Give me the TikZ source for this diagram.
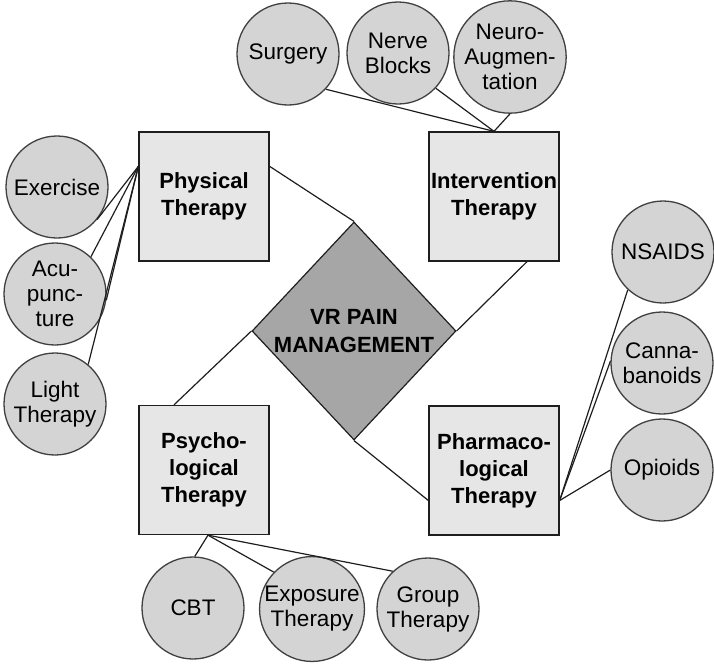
\documentclass[tikz,border=0pt]{standalone}
\usepackage{fontspec}
\setmainfont{Liberation Sans}
\usetikzlibrary{shapes.geometric}
\definecolor{boxfill}{HTML}{E6E6E6}
\definecolor{circfill}{HTML}{D4D4D4}
\definecolor{diafill}{HTML}{A6A6A6}
\definecolor{edge}{HTML}{1E1E1E}
\begin{document}
\begin{tikzpicture}[x=1pt,y=-1pt,
  therapybox/.style={rectangle, draw=edge, line width=1.3pt, fill=boxfill,
    minimum width=130pt, minimum height=129pt, inner sep=0pt, align=center,
    font=\fontsize{22}{27}\selectfont\bfseries},
  leaf/.style={circle, draw=edge!85, line width=1.3pt, fill=circfill,
    minimum size=102pt, inner sep=0pt, align=center,
    font=\fontsize{22.5}{25}\selectfont},
  hub/.style={diamond, draw=edge, line width=1.2pt, fill=diafill,
    minimum width=204pt, minimum height=218pt, inner sep=0pt, align=center,
    font=\fontsize{22}{28}\selectfont\bfseries},
  link/.style={draw=edge, line width=1.2pt}]
\useasboundingbox (0,0) rectangle (714,667);

% hub
\node[hub] (dia) at (354,331) {VR PAIN\\MANAGEMENT};

% therapy boxes
\node[therapybox] (phys) at (204,196.5) {Physical\\Therapy};
\node[therapybox] (int) at (494,196.5) {Intervention\\Therapy};
\node[therapybox] (psy) at (204,470) {Psycho-\\logical\\Therapy};
\node[therapybox] (pharm) at (494,470.5) {Pharmaco-\\logical\\Therapy};

% leaves
\node[leaf] (surg) at (288,54) {Surgery};
\node[leaf] (nerve) at (398,53) {Nerve\\Blocks};
\node[leaf] (neuro) at (510,57) {Neuro-\\Augmen-\\tation};
\node[leaf] (ex) at (57,187) {Exercise};
\node[leaf] (acu) at (55,294) {Acu-\\punc-\\ture};
\node[leaf] (light) at (55,404) {Light\\Therapy};
\node[leaf] (nsaid) at (663,252) {NSAIDS};
\node[leaf] (canna) at (662,363) {Canna-\\banoids};
\node[leaf] (opi) at (662,470) {Opioids};
\node[leaf] (cbt) at (193,608) {CBT};
\node[leaf] (expo) at (312,609) {Exposure\\Therapy};
\node[leaf] (group) at (428,609) {Group\\Therapy};

% hub connectors
\draw[link] ([yshift=-35pt]phys.north east) -- (dia.north);
\draw[link] ([xshift=33pt]int.south) -- (dia.east);
\draw[link] ([xshift=-30pt]psy.north) -- (dia.west);
\draw[link] ([yshift=-30pt]pharm.west) -- (dia.south);

% physical leaves
\draw[link] ([yshift=-35pt]phys.north west) -- (ex.-39);
\draw[link] ([yshift=-35pt]phys.north west) -- (acu.46);
\draw[link] ([yshift=-35pt]phys.north west) -- (acu.-7);
\draw[link] ([yshift=-35pt]phys.north west) -- (light.50);

% intervention leaves
\draw[link] (int.north) -- (surg.-43);
\draw[link] (int.north) -- (nerve.-43);
\draw[link] (int.north) -- (neuro.south);

% pharmacological leaves
\draw[link] ([yshift=-30pt]pharm.east) -- (nsaid.-133);
\draw[link] ([yshift=-30pt]pharm.east) -- (canna.178);
\draw[link] ([yshift=-30pt]pharm.east) -- (opi.west);

% psychological leaves
\draw[link] ([xshift=4pt]psy.south) -- (cbt.88);
\draw[link] ([xshift=4pt]psy.south) -- (expo.136);
\draw[link] ([xshift=4pt]psy.south) -- (group.133);
\end{tikzpicture}
\end{document}
